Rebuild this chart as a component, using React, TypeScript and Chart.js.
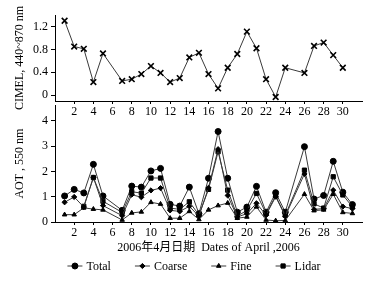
import React, { useEffect, useRef } from 'react';
import { Chart, registerables } from 'chart.js';
import { drawPoint } from 'chart.js/helpers';

Chart.register(...registerables);

const days = [1, 2, 3, 4, 5, 6, 7, 8, 9, 10, 11, 12, 13, 14, 15, 16, 17, 18, 19, 20, 21, 22, 23, 24, 25, 26, 27, 28, 29, 30, 31];
const cimel = [1.3, 0.85, 0.81, 0.23, 0.73, null, 0.25, 0.28, 0.37, 0.51, 0.39, 0.23, 0.3, 0.66, 0.74, 0.37, 0.12, 0.48, 0.72, 1.11, 0.82, 0.28, -0.03, 0.48, null, 0.39, 0.86, 0.92, 0.7, 0.48, null];
const total = [1.03, 1.29, 1.15, 2.28, 1.03, null, 0.46, 1.42, 1.38, 2.02, 2.12, 0.7, 0.63, 1.38, 0.33, 1.73, 3.58, 1.73, 0.39, 0.59, 1.41, 0.39, 1.16, 0.39, null, 2.98, 0.91, 1.05, 2.4, 1.18, 0.69];
const lidar = [null, null, 0.62, 1.76, 0.82, null, 0.38, 1.2, 1.14, 1.74, 1.74, 0.55, 0.5, 0.8, 0.28, 1.29, 2.78, 1.26, 0.23, 0.46, 1.13, 0.33, 1.03, 0.27, null, 2.05, 0.72, 0.55, 1.79, 1.07, 0.6];
const coarse = [0.78, 0.99, 0.59, 1.76, 0.65, null, 0.25, 1.08, 0.98, 1.25, 1.34, 0.46, 0.42, 0.62, 0.23, 1.35, 2.88, 1.05, 0.2, 0.33, 0.74, 0.27, 1.0, 0.23, null, 1.9, 0.5, 0.53, 1.26, 0.61, 0.53];
const fine = [0.29, 0.29, 0.56, 0.51, 0.48, null, 0.08, 0.36, 0.4, 0.78, 0.71, 0.15, 0.15, 0.42, 0.1, 0.48, 0.65, 0.75, 0.15, 0.2, 0.6, 0.08, 0.05, 0.06, null, 1.1, 0.45, 0.48, 1.1, 0.38, 0.34];

const xTicks = [2, 4, 6, 8, 10, 12, 14, 16, 18, 20, 22, 24, 26, 28, 30];
const topYTicks = [0, 0.4, 0.8, 1.2];
const bottomYTicks = [0, 1, 2, 3, 4];
const seriesNames = ['Total', 'Coarse', 'Fine', 'Lidar'];
const topYTitle = 'CIMEL, 440~870 nm';
const bottomYTitle = 'AOT , 550 nm';
const xTitle = '2006年4月日期  Dates of April ,2006';

const FONT = "'Liberation Serif', 'Times New Roman', 'Noto Sans CJK SC', serif";
const font = { family: FONT, size: 12 };
const INK = '#000';
const LINE = '#3a3a3a';

const toPoints = (vals: (number | null)[]) => days.map((d, i) => ({ x: d, y: vals[i] }));

const styles: Record<string, { pointStyle: any; radius: number }> = {
  Total: { pointStyle: 'circle', radius: 3 },
  Coarse: { pointStyle: 'rectRot', radius: 2.6 },
  Fine: { pointStyle: 'triangle', radius: 2.6 },
  Lidar: { pointStyle: 'rect', radius: 3 },
};

const xScale = (height: number, title?: string) => ({
  type: 'linear' as const,
  min: 0,
  max: 32,
  afterBuildTicks: (a: any) => { a.ticks = xTicks.map((v) => ({ value: v })); },
  afterFit: (s: any) => { s.height = height; },
  grid: { drawOnChartArea: false, drawTicks: true, tickLength: 3, color: INK },
  border: { display: true, color: INK, width: 1 },
  ticks: { font, color: INK, padding: 1, maxRotation: 0, autoSkip: false },
  title: title
    ? { display: true, text: title, font, color: INK, padding: { top: 0, bottom: 1 } }
    : { display: false },
});

const yScale = (min: number, max: number, ticks: number[], title: string, fmt: (v: number) => string) => ({
  min,
  max,
  afterBuildTicks: (a: any) => { a.ticks = ticks.map((v) => ({ value: v })); },
  afterFit: (s: any) => { s.width = 55; },
  grid: { drawOnChartArea: false, drawTicks: true, tickLength: 4, color: INK },
  border: { display: true, color: INK, width: 1 },
  ticks: { font, color: INK, padding: 3, callback: (v: any) => fmt(Number(v)) },
  title: { display: true, text: title, font, color: INK, padding: { top: 13, bottom: 0 } },
});

const legendPlugin = {
  id: 'customLegend',
  afterDraw(chart: any) {
    const ctx = chart.ctx;
    ctx.save();
    ctx.font = `12px ${FONT}`;
    ctx.textBaseline = 'middle';
    ctx.fillStyle = INK;
    const lineLen = 15;
    const gapText = 4;
    const gapItem = 24;
    const widths = seriesNames.map((n) => ctx.measureText(n).width);
    const totalW = widths.reduce((a, w) => a + lineLen + gapText + w, 0) + gapItem * (seriesNames.length - 1);
    let x = 194 - totalW / 2;
    const y = chart.height - 20;
    seriesNames.forEach((n, i) => {
      ctx.strokeStyle = LINE;
      ctx.lineWidth = 1;
      ctx.beginPath();
      ctx.moveTo(x, y);
      ctx.lineTo(x + lineLen, y);
      ctx.stroke();
      const st = styles[n];
      ctx.fillStyle = INK;
      ctx.strokeStyle = INK;
      drawPoint(ctx, { pointStyle: st.pointStyle, radius: st.radius, borderWidth: 1, rotation: 0 } as any, x + lineLen / 2, y);
      ctx.fillStyle = INK;
      ctx.fillText(n, x + lineLen + gapText, y + 1);
      x += lineLen + gapText + widths[i] + gapItem;
    });
    ctx.restore();
  },
};

export default function App() {
  const topRef = useRef<HTMLCanvasElement>(null);
  const botRef = useRef<HTMLCanvasElement>(null);

  useEffect(() => {
    const top = new Chart(topRef.current!, {
      type: 'line',
      data: {
        datasets: [
          {
            label: 'CIMEL',
            data: toPoints(cimel) as any,
            borderColor: LINE,
            borderWidth: 1,
            pointStyle: 'crossRot',
            pointRadius: 4,
            pointBorderWidth: 1.6,
            pointBorderColor: INK,
            pointBackgroundColor: INK,
            spanGaps: true,
          },
        ],
      },
      options: {
        responsive: false,
        animation: false,
        layout: { padding: { top: 15, right: 15, left: 0, bottom: 0 } },
        plugins: { legend: { display: false }, tooltip: { enabled: false } },
        scales: {
          x: xScale(17) as any,
          y: yScale(-0.1, 1.4, topYTicks, topYTitle, (v) => (v === 0 ? '0' : v.toFixed(1))) as any,
        },
      },
    });

    const mk = (name: string, vals: (number | null)[]) => ({
      label: name,
      data: toPoints(vals) as any,
      borderColor: LINE,
      borderWidth: 1,
      pointStyle: styles[name].pointStyle,
      pointRadius: styles[name].radius,
      pointBorderWidth: 1,
      pointBorderColor: INK,
      pointBackgroundColor: INK,
      spanGaps: true,
    });

    const bot = new Chart(botRef.current!, {
      type: 'line',
      data: {
        datasets: [mk('Fine', fine), mk('Coarse', coarse), mk('Lidar', lidar), mk('Total', total)],
      },
      options: {
        responsive: false,
        animation: false,
        layout: { padding: { top: 6, right: 15, left: 0, bottom: 30 } },
        plugins: { legend: { display: false }, tooltip: { enabled: false } },
        scales: {
          x: xScale(34, xTitle) as any,
          y: yScale(0, 4.62, bottomYTicks, bottomYTitle, (v) => String(v)) as any,
        },
      },
      plugins: [legendPlugin],
    });

    return () => {
      top.destroy();
      bot.destroy();
    };
  }, []);

  return (
    <div style={{ position: 'absolute', left: 0, top: 0, width: 377, height: 286, background: '#fff' }}>
      <canvas ref={topRef} width={377} height={118} style={{ position: 'absolute', left: 0, top: 0, width: 377, height: 118 }} />
      <canvas ref={botRef} width={377} height={191} style={{ position: 'absolute', left: 0, top: 95, width: 377, height: 191 }} />
    </div>
  );
}
